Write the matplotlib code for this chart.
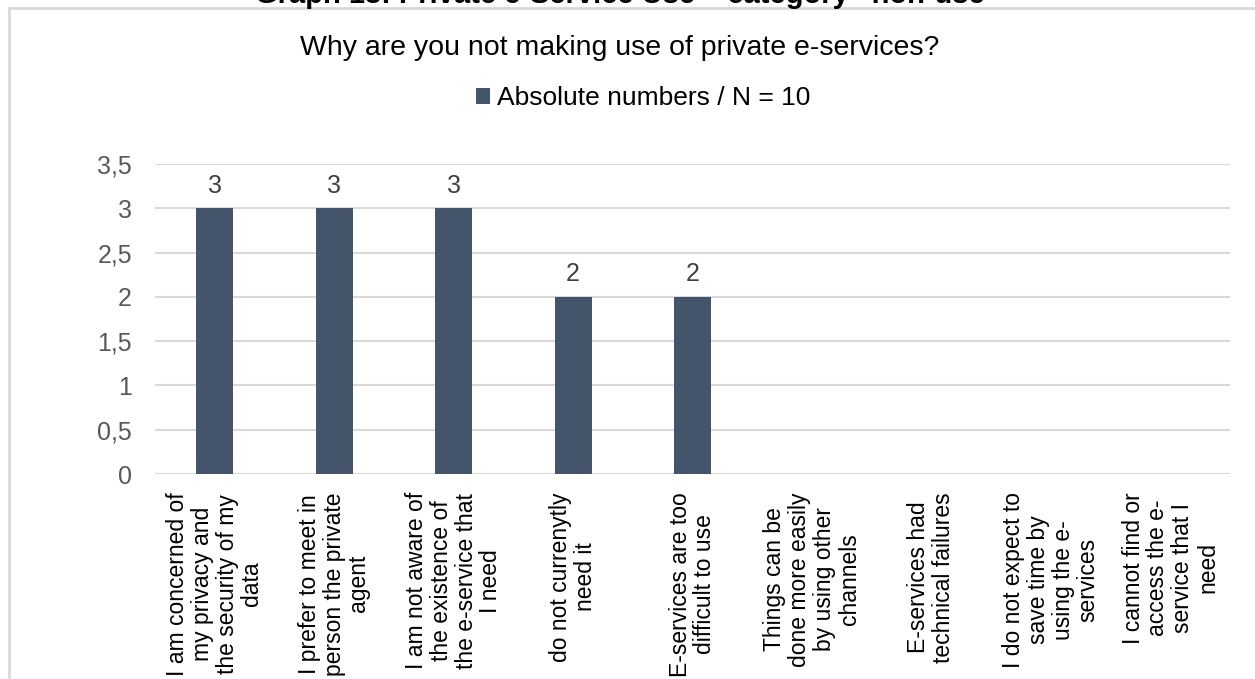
import matplotlib.pyplot as plt
from matplotlib.patches import Rectangle

plt.rcParams['font.family'] = ['Liberation Sans', 'DejaVu Sans']

# survey answers (reasons for non-use) and absolute counts
categories = [
    "I am concerned of\nmy privacy and\nthe security of my\ndata",
    "I prefer to meet in\nperson the private\nagent",
    "I am not aware of\nthe existence of\nthe e-service that\nI need",
    "do not currenytly\nneed it",
    "E-services are too\ndifficult to use",
    "Things can be\ndone more easily\nby using other\nchannels",
    "E-services had\ntechnical failures",
    "I do not expect to\nsave time by\nusing the e-\nservices",
    "I cannot find or\naccess the e-\nservice that I\nneed",
]
counts = [3, 3, 3, 2, 2, 0, 0, 0, 0]
yticks = [0, 0.5, 1, 1.5, 2, 2.5, 3, 3.5]
ytick_labels = ["0", "0,5", "1", "1,5", "2", "2,5", "3", "3,5"]

bar_color = "#44546A"
grid_color = "#D9D9D9"
text_grey = "#595959"

W, H = 1255, 679
fig = plt.figure(figsize=(W / 100, H / 100), dpi=100)

# chart frame (only top and left edges fall inside the canvas)
fig.patches.append(Rectangle((9 / W, -0.1), 1.2, 1.1 - 8 / H, transform=fig.transFigure,
                             fill=False, edgecolor=grid_color, linewidth=2))

# document caption above the chart frame, mostly cut off by the page edge
fig.text(0.5, 1 - 3 / H, "Graph 18: Private e-Service Use \u2013 category \u201cnon-use\u201d",
         ha="center", va="baseline", fontsize=21, fontweight="bold", color="black")

ax = fig.add_axes([155 / W, 1 - 474 / H, (1230 - 155) / W, (474 - 164) / H])
x = range(len(categories))
bars = ax.bar(x, counts, width=0.31, color=bar_color, label="Absolute numbers / N = 10", zorder=3)

for xi, v in zip(x, counts):
    if v > 0:
        ax.text(xi, v + 0.12, str(v), ha="center", va="bottom", fontsize=18, color="#404040")

ax.set_xlim(-0.5, len(categories) - 0.5)
ax.set_ylim(0, 3.5)
ax.set_yticks(yticks)
ax.set_yticklabels(ytick_labels, fontsize=18, color=text_grey)
ax.set_xticks(list(x))
ax.set_xticklabels(categories, rotation=90, ha="center", va="top", multialignment="center",
                   fontsize=16.5, color="black", linespacing=1.1)
ax.tick_params(axis="both", length=0)
ax.tick_params(axis="y", pad=16.5)
ax.tick_params(axis="x", pad=13)
ax.yaxis.grid(True, color=grid_color, linewidth=1.5, zorder=0)
for side in ["top", "right", "left", "bottom"]:
    ax.spines[side].set_visible(False)
ax.axhline(0, color=grid_color, linewidth=1.5, zorder=2)

fig.text(0.494, 1 - 48 / H, "Why are you not making use of private e-services?",
         ha="center", va="center", fontsize=20.5, color="black")
fig.legend(handles=[bars], labels=["Absolute numbers / N = 10"], loc="center",
           bbox_to_anchor=(643 / W, 1 - 98 / H), frameon=False, fontsize=19,
           handlelength=0.55, handleheight=0.55, handletextpad=0.25)

fig.savefig("out.png", dpi=100)
